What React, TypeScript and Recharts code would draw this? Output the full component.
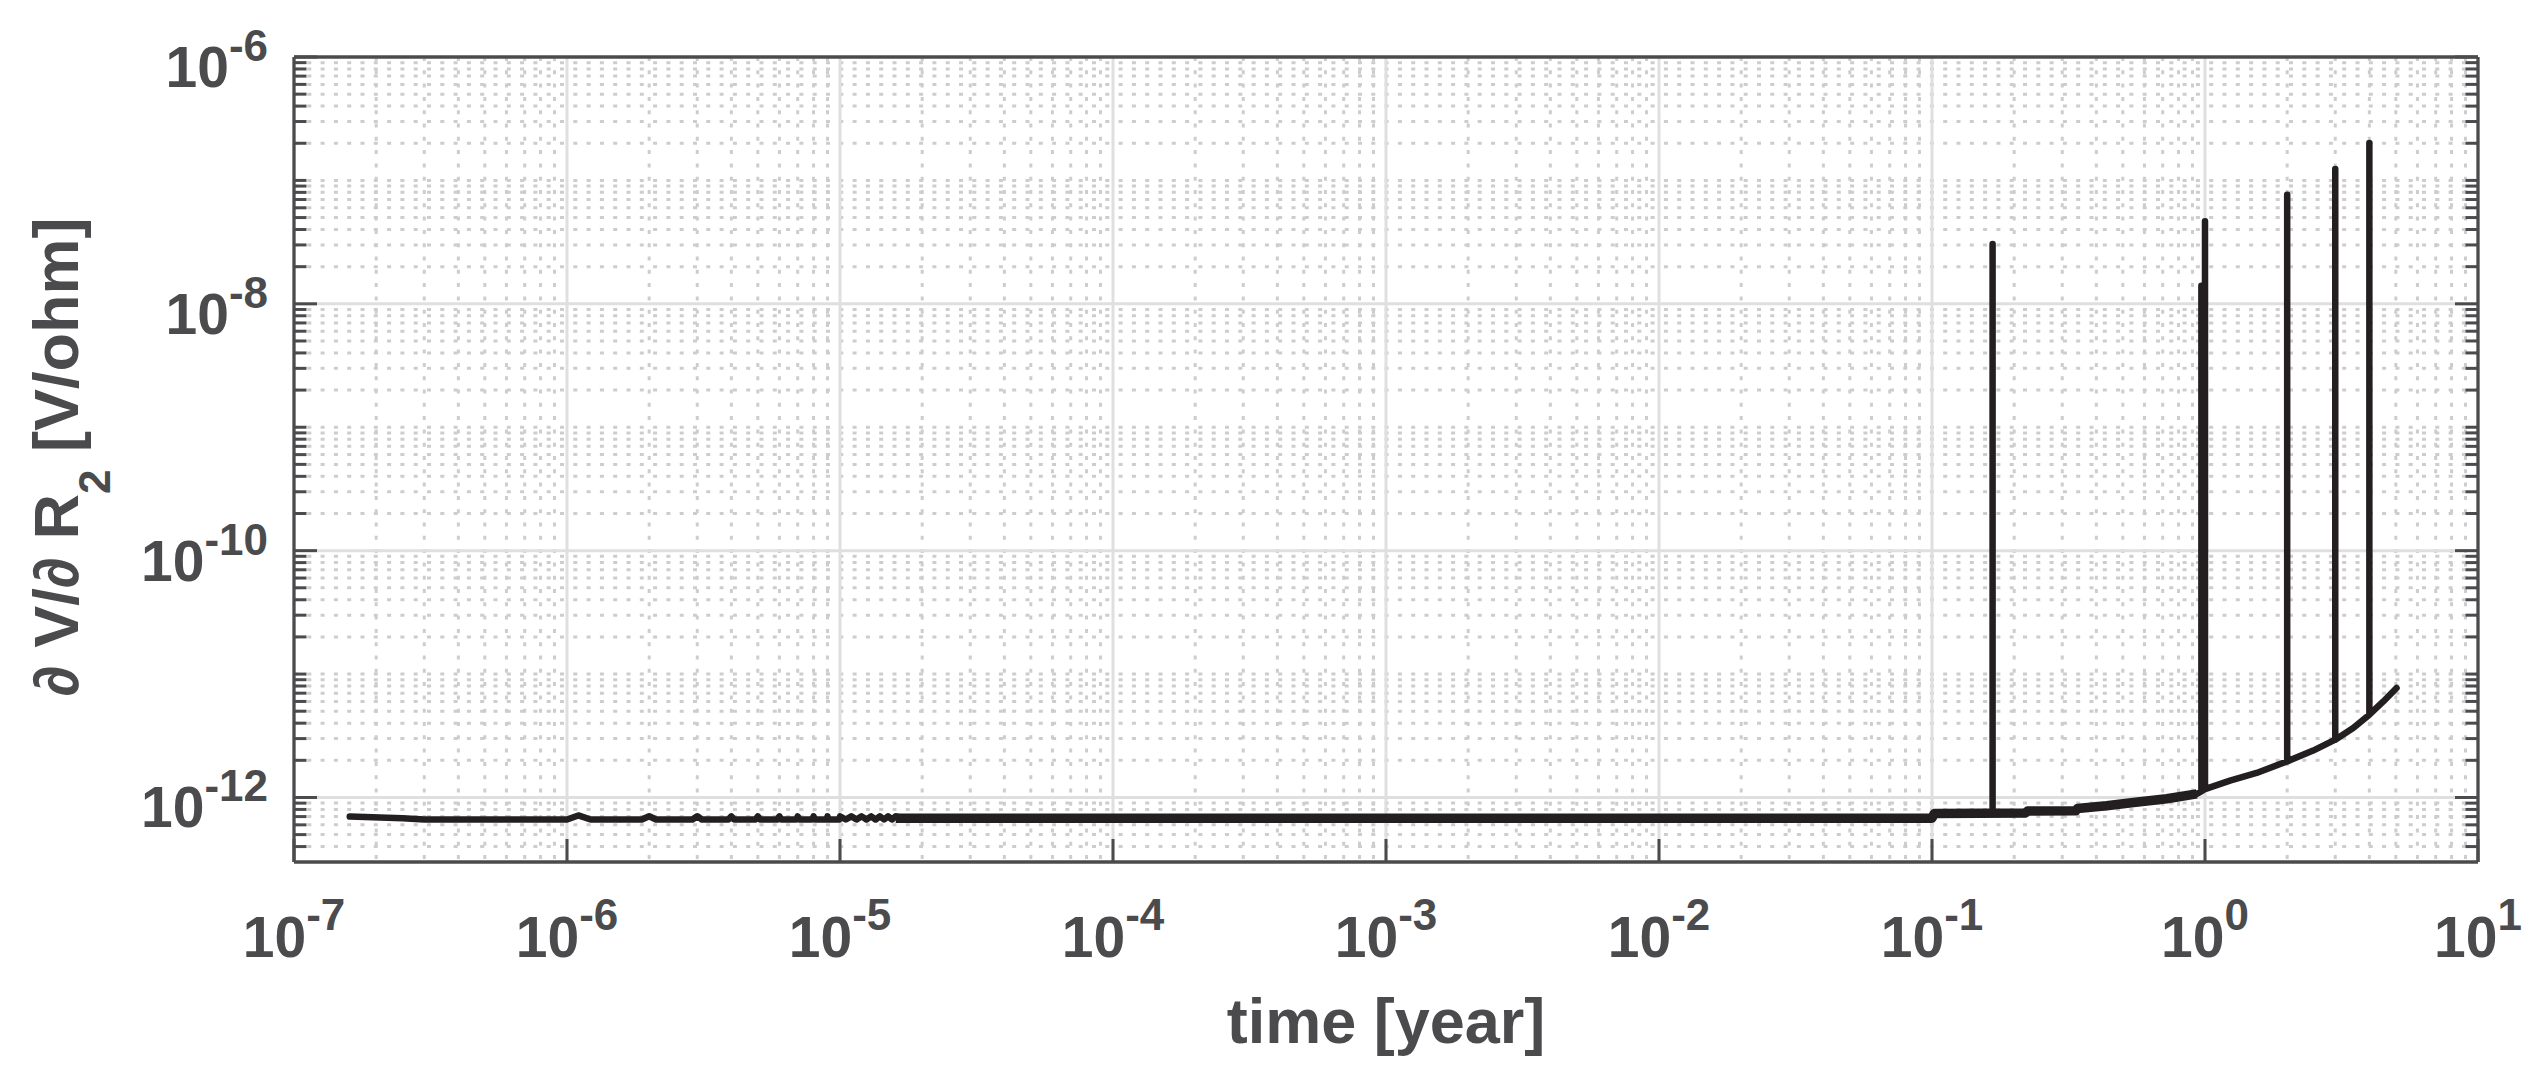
import React from 'react';
import { LineChart, Line, XAxis, YAxis, CartesianGrid } from 'recharts';

const W = 2540;
const H = 1087;
// plot box: left 294, right 2478, top 57, bottom 862 (each side has two 1px axes)
const MARGIN = { top: 55, right: 60, bottom: 223, left: 292 };
const PLOT_LEFT = 294;
const PLOT_BOTTOM = 862;
const INK = '#4b4b4d';
const LINE = '#231f20';
const FONT = "'Liberation Sans', Arial, Helvetica, sans-serif";

// time axis [year]
const xDomain = [1e-7, 10];
const xMajor = [1e-7, 1e-6, 1e-5, 1e-4, 1e-3, 1e-2, 1e-1, 1e0, 1e1];

// sensitivity axis [V/ohm]
const yDomain = [3e-13, 1e-6];
const yMajor = [1e-12, 1e-10, 1e-8, 1e-6];
const yDecades = [1e-13, 1e-12, 1e-11, 1e-10, 1e-9, 1e-8, 1e-7];
const minorSteps = [2, 3, 4, 5, 6, 7, 8, 9];

// base curve
const baseTime = [
  1.6e-7, 2.5e-7, 3.0e-7,
  1.0e-6, 1.1e-6, 1.22e-6,
  1.88e-6, 2.0e-6, 2.12e-6,
  2.88e-6, 3.0e-6, 3.12e-6,
  3.9e-6, 4.0e-6, 4.1e-6,
  4.9e-6, 5.0e-6, 5.1e-6,
  5.9e-6, 6.0e-6, 6.1e-6,
  6.92e-6, 7.0e-6, 7.08e-6,
  7.92e-6, 8.0e-6, 8.08e-6,
  8.93e-6, 9.0e-6, 9.07e-6,
  9.94e-6, 1.0e-5, 1.05e-5,
  1.1e-5, 1.15e-5, 1.2e-5, 1.25e-5, 1.3e-5, 1.35e-5, 1.4e-5, 1.45e-5, 1.5e-5, 1.55e-5, 1.6e-5,
  1.7e-5, 1e-3, 0.1, 0.102, 0.1667, 0.22, 0.224, 0.337, 0.341, 0.436, 0.547, 0.724, 0.81, 0.933,
  0.97, 1.0, 1.235, 1.545, 2.0, 2.49, 3.0, 3.49, 4.0, 4.5, 5.03,
];
const baseValue = [
  7.0e-13, 6.8e-13, 6.63e-13,
  6.63e-13, 7.15e-13, 6.63e-13,
  6.63e-13, 7.05e-13, 6.63e-13,
  6.63e-13, 7.05e-13, 6.63e-13,
  6.63e-13, 7.03e-13, 6.63e-13,
  6.63e-13, 7.03e-13, 6.63e-13,
  6.63e-13, 7.03e-13, 6.63e-13,
  6.63e-13, 7.03e-13, 6.63e-13,
  6.63e-13, 7.03e-13, 6.63e-13,
  6.63e-13, 7.03e-13, 6.63e-13,
  6.63e-13, 7.03e-13, 6.63e-13,
  7.03e-13, 6.63e-13, 7.03e-13, 6.63e-13, 7.03e-13, 6.63e-13, 7.03e-13, 6.63e-13, 7.03e-13, 6.63e-13, 7.03e-13,
  6.8e-13, 6.8e-13, 6.8e-13, 7.42e-13, 7.45e-13, 7.5e-13, 7.76e-13, 7.8e-13, 8.14e-13, 8.56e-13, 9.1e-13, 9.76e-13, 1.03e-12, 1.07e-12,
  1.12e-12, 1.17e-12, 1.37e-12, 1.58e-12, 1.96e-12, 2.4e-12, 2.94e-12, 3.65e-12, 4.69e-12, 6.0e-12, 7.7e-12,
];

// vertical spikes (time, peak)
const spikeTime = [0.1667, 0.97, 1.0, 2.0, 3.0, 4.0];
const spikePeak = [3.05e-8, 1.4e-8, 4.66e-8, 7.66e-8, 1.24e-7, 2.01e-7];

// dense ripple band of the long flat part
const rippleTime = [1.6e-5, 0.1, 0.102, 0.22, 0.224, 0.337, 0.341, 0.436, 0.547, 0.724, 0.933];
const rippleValue = [6.8e-13, 6.8e-13, 7.42e-13, 7.5e-13, 7.76e-13, 7.8e-13, 8.14e-13, 8.56e-13, 9.1e-13, 9.76e-13, 1.07e-12];

const peakAt = new Map(spikeTime.map((t, i) => [t, spikePeak[i]]));
const sensitivity = baseTime.flatMap((t, i) => {
  const p = { t, v: baseValue[i] };
  const peak = peakAt.get(t);
  return peak === undefined ? [p] : [p, { t, v: peak }, p];
});
const ripple = rippleTime.map((t, i) => ({ t, v: rippleValue[i] }));

const xMinor = xMajor.slice(0, -1).flatMap((d) => minorSteps.map((k) => k * d));
const yMinor = yDecades
  .flatMap((d) => [1, ...minorSteps].map((k) => k * d))
  .filter((v) => v > yDomain[0] * 1.01 && v < yDomain[1] * 0.99 && !yMajor.includes(v));
const xGrid = xMajor.slice(1, -1);
const yGrid = yMajor.slice(0, -1);

const exponent = (v: number) => String(Math.round(Math.log10(v)));
const textStyle = { fontFamily: FONT, fontWeight: 700, fill: INK } as const;

const XTick = ({ x, payload }: any) => (
  <text x={x} y={PLOT_BOTTOM + 95} textAnchor="middle" fontSize={57} {...textStyle}>
    <tspan>10</tspan>
    <tspan fontSize={44} dy={-27}>{exponent(payload.value)}</tspan>
  </text>
);

const YTick = ({ y, payload }: any) => (
  <text x={PLOT_LEFT - 26} y={y + 30} textAnchor="end" fontSize={57} {...textStyle}>
    <tspan>10</tspan>
    <tspan fontSize={44} dy={-26}>{exponent(payload.value)}</tspan>
  </text>
);

const NoTick = () => <g />;

const XTitle = () => (
  <text x={1386} y={1043} textAnchor="middle" fontSize={63} {...textStyle}>
    time [year]
  </text>
);

const YTitle = () => (
  <text
    transform="rotate(-90)"
    x={-457}
    y={78}
    textAnchor="middle"
    fontSize={63}
    style={{ whiteSpace: 'pre' }}
    {...textStyle}
  >
    <tspan>∂ V/∂ R</tspan>
    <tspan fontSize={44} dy={32}>2</tspan>
    <tspan dy={-32}> [V/ohm]</tspan>
  </text>
);

const axisLine = { stroke: INK, strokeWidth: 3.3 };
const tickLine = { stroke: INK, strokeWidth: 3 };

const App: React.FC = () => {
  return (
    <div style={{ position: 'absolute', left: 0, top: 0, width: W, height: H, background: '#fff' }}>
      <LineChart width={W} height={H} margin={MARGIN}>
        <CartesianGrid
          xAxisId="x"
          yAxisId="y"
          verticalValues={xMinor}
          horizontalValues={yMinor}
          stroke="#cdcdcd"
          strokeWidth={3}
          strokeDasharray="4 9.3"
        />
        <CartesianGrid
          xAxisId="x"
          yAxisId="y"
          verticalValues={xGrid}
          horizontalValues={yGrid}
          stroke="#dfdfdf"
          strokeWidth={3}
        />

        <XAxis
          xAxisId="x"
          dataKey="t"
          type="number"
          scale="log"
          domain={xDomain}
          allowDataOverflow
          ticks={xMajor}
          interval={0}
          height={1}
          tickSize={-23}
          axisLine={axisLine}
          tickLine={tickLine}
          tick={XTick}
          label={XTitle}
        />
        <XAxis
          xAxisId="xMinor"
          type="number"
          scale="log"
          domain={xDomain}
          allowDataOverflow
          ticks={xMinor}
          interval={0}
          height={1}
          tickSize={-13.5}
          axisLine={false}
          tickLine={tickLine}
          tick={NoTick}
        />
        <XAxis
          xAxisId="xTop"
          orientation="top"
          type="number"
          scale="log"
          domain={xDomain}
          allowDataOverflow
          ticks={xMajor}
          interval={0}
          height={1}
          tickSize={-23}
          axisLine={axisLine}
          tickLine={tickLine}
          tick={NoTick}
        />
        <XAxis
          xAxisId="xTopMinor"
          orientation="top"
          type="number"
          scale="log"
          domain={xDomain}
          allowDataOverflow
          ticks={xMinor}
          interval={0}
          height={1}
          tickSize={-13.5}
          axisLine={false}
          tickLine={tickLine}
          tick={NoTick}
        />

        <YAxis
          yAxisId="y"
          type="number"
          scale="log"
          domain={yDomain}
          allowDataOverflow
          ticks={yMajor}
          interval={0}
          width={1}
          tickSize={-23}
          axisLine={axisLine}
          tickLine={tickLine}
          tick={YTick}
          label={YTitle}
        />
        <YAxis
          yAxisId="yMinor"
          type="number"
          scale="log"
          domain={yDomain}
          allowDataOverflow
          ticks={yMinor}
          interval={0}
          width={1}
          tickSize={-13.5}
          axisLine={false}
          tickLine={tickLine}
          tick={NoTick}
        />
        <YAxis
          yAxisId="yRight"
          orientation="right"
          type="number"
          scale="log"
          domain={yDomain}
          allowDataOverflow
          ticks={yMajor}
          interval={0}
          width={1}
          tickSize={-23}
          axisLine={axisLine}
          tickLine={tickLine}
          tick={NoTick}
        />
        <YAxis
          yAxisId="yRightMinor"
          orientation="right"
          type="number"
          scale="log"
          domain={yDomain}
          allowDataOverflow
          ticks={yMinor}
          interval={0}
          width={1}
          tickSize={-13.5}
          axisLine={false}
          tickLine={tickLine}
          tick={NoTick}
        />

        <Line
          xAxisId="x"
          yAxisId="y"
          data={ripple}
          dataKey="v"
          type="linear"
          stroke={LINE}
          strokeWidth={9.5}
          strokeLinejoin="round"
          dot={false}
          activeDot={false}
          isAnimationActive={false}
        />
        <Line
          xAxisId="x"
          yAxisId="y"
          data={sensitivity}
          dataKey="v"
          type="linear"
          stroke={LINE}
          strokeWidth={6.5}
          strokeLinejoin="round"
          strokeLinecap="round"
          dot={false}
          activeDot={false}
          isAnimationActive={false}
        />
      </LineChart>
    </div>
  );
};

export default App;
